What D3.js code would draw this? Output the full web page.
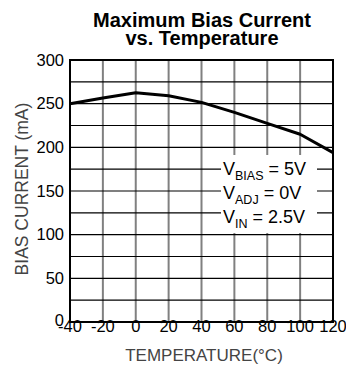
<!DOCTYPE html>
<html>
<head>
<meta charset="utf-8">
<script src="https://cdn.jsdelivr.net/npm/d3@7"></script>
<style>
  body { margin: 0; background: #fff; }
  svg { font-family: "Liberation Sans", Arial, sans-serif; }
</style>
</head>
<body>
<svg id="chart" width="346" height="366"></svg>
<script>
// values
const temperatures = [-40, -20, 0, 20, 40, 60, 80, 100, 120];
const biasCurrent = [250, 256.5, 262.5, 259, 251.5, 240, 227.5, 215, 194];
const xTicks = [-40, -20, 0, 20, 40, 60, 80, 100, 120];
const yTicks = [0, 50, 100, 150, 200, 250, 300];
const yGrid = [25, 50, 75, 100, 125, 150, 175, 200, 225, 250, 275];
const conditions = [
  { main: "V", sub: "BIAS", rest: " = 5V" },
  { main: "V", sub: "ADJ", rest: " = 0V" },
  { main: "V", sub: "IN", rest: " = 2.5V" }
];

const svg = d3.select("#chart");
const margin = { top: 60, right: 13, bottom: 44, left: 70 };
const width = 346 - margin.left - margin.right;
const height = 366 - margin.top - margin.bottom;

const x = d3.scaleLinear().domain([-40, 120]).range([margin.left, margin.left + width]);
const y = d3.scaleLinear().domain([0, 300]).range([margin.top + height, margin.top]);

// Title (two lines)
svg.append("text")
  .attr("x", 202).attr("y", 27)
  .attr("text-anchor", "middle")
  .style("font-size", "20px").style("font-weight", "bold")
  .text("Maximum Bias Current");
svg.append("text")
  .attr("x", 202).attr("y", 45)
  .attr("text-anchor", "middle")
  .style("font-size", "20px").style("font-weight", "bold")
  .text("vs. Temperature");

// Grid: vertical gray, horizontal black
svg.append("g").selectAll("line")
  .data(xTicks.slice(1, -1))
  .enter().append("line")
  .attr("x1", d => x(d)).attr("x2", d => x(d))
  .attr("y1", y(300)).attr("y2", y(0))
  .attr("stroke", "#808080").attr("stroke-width", 2);

svg.append("g").selectAll("line")
  .data(yGrid)
  .enter().append("line")
  .attr("x1", x(-40)).attr("x2", x(120))
  .attr("y1", d => y(d)).attr("y2", d => y(d))
  .attr("stroke", "#000").attr("stroke-width", 1.2);

// Curve
const line = d3.line()
  .x((d, i) => x(temperatures[i]))
  .y(d => y(d));

svg.append("path")
  .datum(biasCurrent)
  .attr("d", line)
  .attr("fill", "none")
  .attr("stroke", "#000")
  .attr("stroke-width", 3)
  .attr("stroke-linejoin", "round");

// Frame
svg.append("rect")
  .attr("x", x(-40)).attr("y", y(300))
  .attr("width", x(120) - x(-40)).attr("height", y(0) - y(300))
  .attr("fill", "none").attr("stroke", "#000").attr("stroke-width", 2);

// Conditions box
svg.append("rect")
  .attr("x", 221).attr("y", 155)
  .attr("width", 96).attr("height", 78)
  .attr("fill", "#fff");

const cond = svg.append("g");
conditions.forEach((c, i) => {
  const t = cond.append("text")
    .attr("x", 223).attr("y", 175 + i * 24)
    .style("font-size", "18px");
  t.append("tspan").text(c.main);
  t.append("tspan").attr("dy", 5).style("font-size", "12.5px").text(c.sub);
  t.append("tspan").attr("dy", -5).text(c.rest);
});

// Axis tick labels
svg.append("g").selectAll("text")
  .data(yTicks)
  .enter().append("text")
  .attr("x", margin.left - 6)
  .attr("y", d => y(d) - (d === 0 ? 2 : 0))
  .attr("dy", "0.35em")
  .attr("text-anchor", "end")
  .style("font-size", "16.5px")
  .text(d => d);

svg.append("g").selectAll("text")
  .data(xTicks)
  .enter().append("text")
  .attr("x", d => x(d))
  .attr("y", 332)
  .attr("text-anchor", "middle")
  .style("font-size", "16.5px")
  .text(d => d);

// Axis titles
svg.append("text")
  .attr("x", 204).attr("y", 361)
  .attr("text-anchor", "middle")
  .style("font-size", "17px").style("fill", "#444")
  .text("TEMPERATURE(°C)");

svg.append("text")
  .attr("transform", "translate(28,189) rotate(-90)")
  .attr("text-anchor", "middle")
  .style("font-size", "17.5px").style("fill", "#444")
  .text("BIAS CURRENT (mA)");
</script>
</body>
</html>
